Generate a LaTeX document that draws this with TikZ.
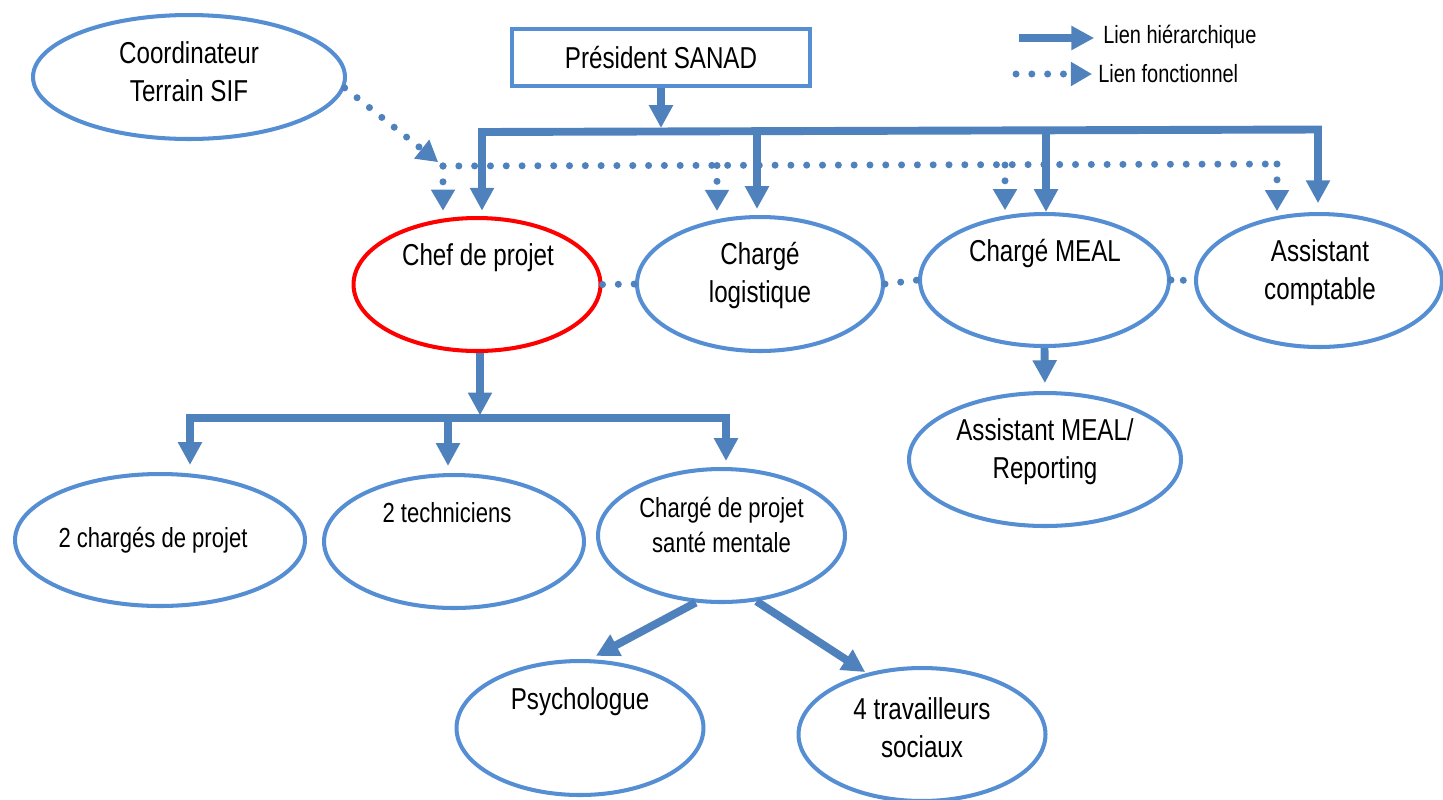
\documentclass[tikz,border=0pt]{standalone}
\usepackage{fontspec}
\setmainfont{Liberation Sans}[FakeStretch=0.80]
\usetikzlibrary{shapes.geometric,arrows.meta}
\definecolor{linkblue}{RGB}{79,129,189}
\definecolor{ellblue}{RGB}{86,142,212}
\begin{document}
\begin{tikzpicture}[x=0.02cm,y=-0.02cm,
        post/.style={ellipse,draw=ellblue,line width=2.3pt,inner sep=0pt},
        txt/.style={align=center,inner sep=0pt,font=\fontsize{17.2}{21.8}\selectfont},
        smalltxt/.style={align=center,inner sep=0pt,font=\fontsize{15.7}{20.4}\selectfont},
        legtxt/.style={anchor=west,inner sep=0pt,font=\fontsize{14.2}{16}\selectfont},
        hier/.style={draw=linkblue,line width=4.5pt,-{Triangle[width=13pt,length=13pt]}},
        bus/.style={draw=linkblue,line width=4.5pt,line cap=rect},
        fonc/.style={draw=linkblue,line width=4pt,line cap=round,dash pattern=on 0pt off 9pt,-{Triangle[width=13pt,length=12pt]}},
        fonl/.style={draw=linkblue,line width=4pt,line cap=round,dash pattern=on 0pt off 9pt}]
                \useasboundingbox (0,0) rectangle (1443,799);
                \node[post,minimum width=6.24cm,minimum height=2.48cm] (coord) at (189,77) {};
                \node[txt] (coordT) at (189,72) {Coordinateur\\Terrain SIF};
                \node[draw=ellblue,line width=2.3pt,minimum width=5.96cm,minimum height=1.14cm,txt] (pres) at (661,57.5) {Président SANAD};
                \node[post,draw=red,minimum width=4.94cm,minimum height=2.66cm] (chef) at (477,284.5) {};
                \node[txt] (chefT) at (478,258) {Chef de projet};
                \node[post,minimum width=4.92cm,minimum height=2.68cm] (logi) at (760,284) {};
                \node[txt] (logiT) at (760,275.5) {Chargé\\logistique};
                \node[post,minimum width=4.98cm,minimum height=2.64cm] (meal) at (1044.5,280) {};
                \node[txt] (mealT) at (1045,253) {Chargé MEAL};
                \node[post,minimum width=4.92cm,minimum height=2.66cm] (compta) at (1319,280.5) {};
                \node[txt] (comptaT) at (1320,272.5) {Assistant\\comptable};
                \node[post,minimum width=5.44cm,minimum height=2.66cm] (assmeal) at (1045,459.5) {};
                \node[txt] (assmealT) at (1045,452) {Assistant MEAL/\\Reporting};
                \node[post,minimum width=5.8cm,minimum height=2.64cm] (charges) at (160,540) {};
                \node[smalltxt] (chargesT) at (153,540) {2 chargés de projet};
                \node[post,minimum width=5.2cm,minimum height=2.66cm] (techn) at (454,541.5) {};
                \node[smalltxt] (technT) at (447,513) {2 techniciens};
                \node[post,minimum width=4.94cm,minimum height=2.66cm] (sante) at (721.5,535.5) {};
                \node[smalltxt] (santeT) at (721.5,525) {Chargé de projet\\santé mentale};
                \node[post,minimum width=4.94cm,minimum height=2.68cm] (psych) at (580,728) {};
                \node[txt] (psychT) at (580,702) {Psychologue};
                \node[post,minimum width=4.94cm,minimum height=2.66cm] (trav) at (922,734.5) {};
                \node[txt] (travT) at (922,727.5) {4 travailleurs\\sociaux};
                \coordinate (presJ) at (661,128);
                \coordinate (busA) at (482,132);
                \coordinate (busB) at (757,131);
                \coordinate (busC) at (1046,130);
                \coordinate (busD) at (1318,129.5);
                \draw[hier] (pres) -- (presJ);
                \draw[bus] (busA) -- (busD);
                \draw[hier,shorten >=3pt] (busA) -- (busA |- chef.north);
                \draw[hier,shorten >=3.4pt] (busB) -- (busB |- logi.north);
                \draw[hier] (busC) -- (busC |- meal.north);
                \draw[hier,shorten >=5pt] (busD) -- (busD |- compta.north);
                \coordinate (chefJ) at (480,418);
                \coordinate (bustA) at (190,418);
                \coordinate (bustB) at (448,418);
                \coordinate (bustC) at (726,418);
                \draw[hier,shorten >=1.5pt] (chefJ |- chef.south) -- (chefJ);
                \draw[bus] (bustA) -- (bustC);
                \draw[hier,shorten >=4pt] (bustA) -- (bustA |- charges.north);
                \draw[hier,shorten >=4pt] (bustB) -- (bustB |- techn.north);
                \draw[hier,shorten >=3.4pt] (bustC) -- (bustC |- sante.north);
                \draw[hier,shorten >=4.5pt] (meal.south) -- (assmeal.north);
                \draw[hier,shorten >=4pt] (sante.-111) -- (psych.82);
                \draw[hier,shorten >=1pt] (sante.-62) -- (trav.132);
                \coordinate (fonA) at (443,166);
                \coordinate (fonB) at (717,165.5);
                \coordinate (fonC) at (1005,165);
                \coordinate (fonD) at (1277,164);
                \draw[fonc,shorten >=3.5pt] (coord.-4) -- (fonA);
                \draw[fonl] (fonA) -- (fonD);
                \draw[fonc,shorten >=3pt] (fonA) -- (fonA |- chef.north);
                \draw[fonc,shorten >=2.3pt] (fonB) -- (fonB |- logi.north);
                \draw[fonc,shorten >=1pt] (fonC) -- (fonC |- meal.north);
                \draw[fonc,shorten >=0.5pt] (fonD) -- (fonD |- compta.north);
                \draw[fonl] (chef.east) -- (logi.west);
                \draw[fonl] (logi.east) -- (meal.west);
                \draw[fonl,dash pattern=on 0pt off 7pt] (meal.east) -- (compta.west);
                \node[legtxt] (legH) at (1103,37) {Lien hiérarchique};
                \node[legtxt] (legF) at (1098,74) {Lien fonctionnel};
                \coordinate (legHs) at (1019,38);
                \coordinate (legFs) at (1016,74);
                \draw[hier,shorten >=5pt] (legHs) -- (legH.west |- legHs);
                \draw[fonc,shorten >=3.4pt] (legFs) -- (legF.west |- legFs);
            \end{tikzpicture}
\end{document}
